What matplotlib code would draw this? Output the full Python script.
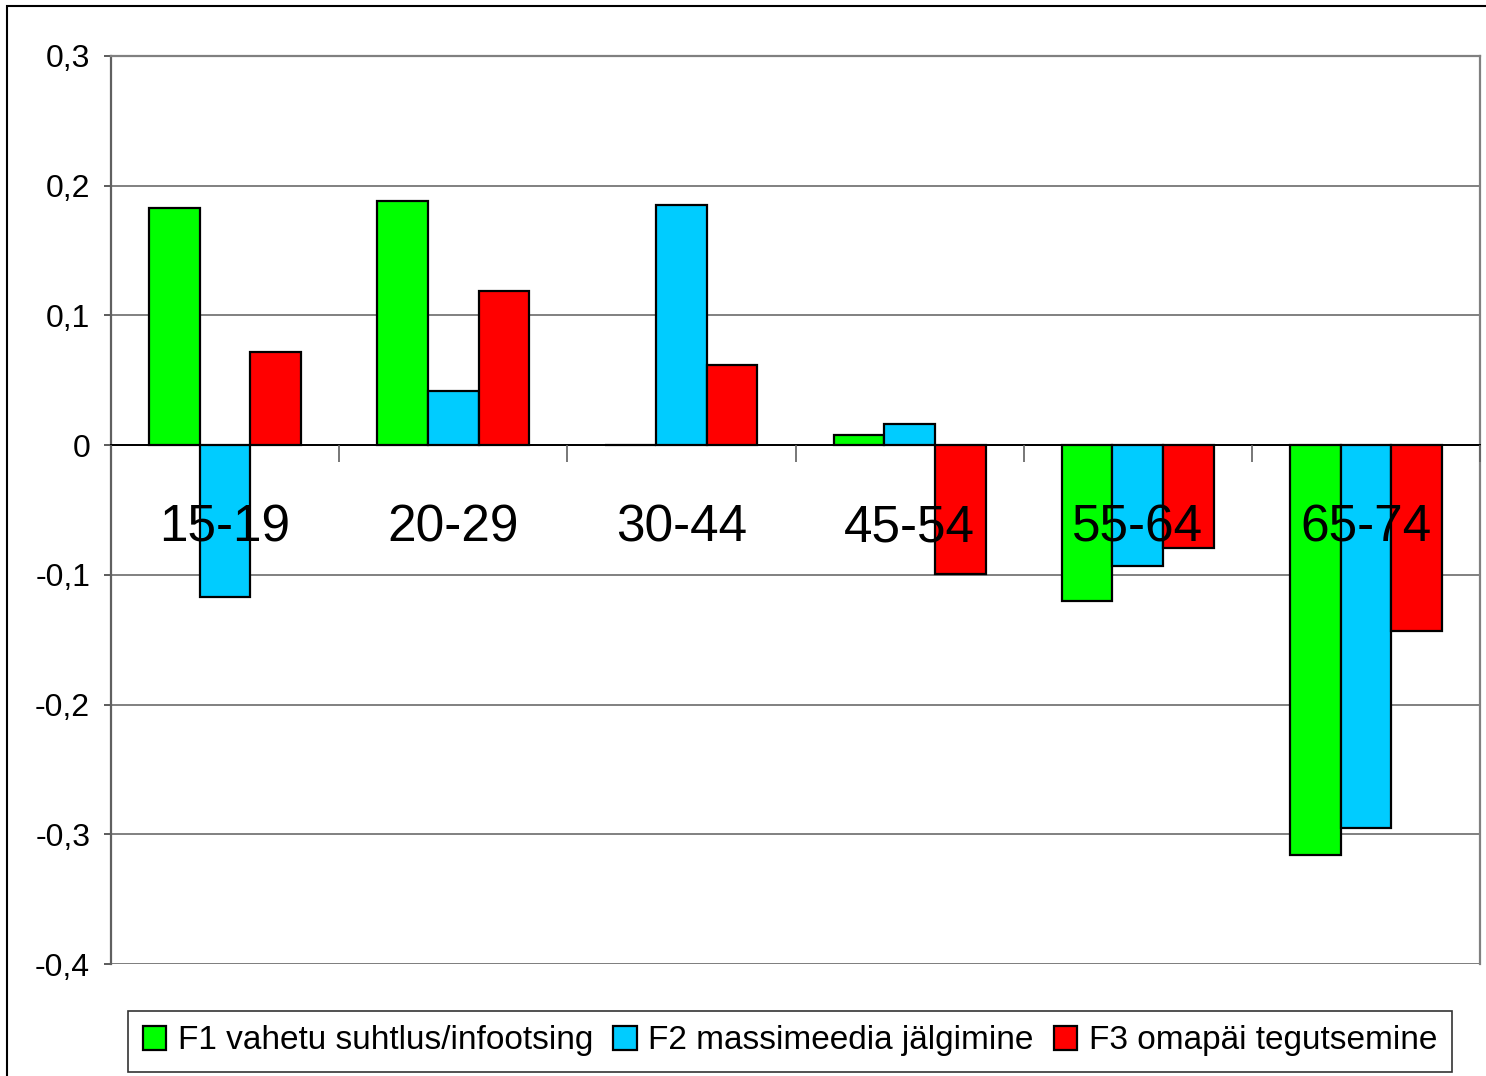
"""Grouped bar chart: factor scores by age group."""

import matplotlib
matplotlib.use("Agg")
import matplotlib.pyplot as plt
from matplotlib.patches import Rectangle
from matplotlib.ticker import FuncFormatter
import numpy as np

plt.rcParams["font.family"] = ["Liberation Sans", "DejaVu Sans"]

# ------------------------------------------------------------------
# Data
# ------------------------------------------------------------------
age_groups = ["15-19", "20-29", "30-44", "45-54", "55-64", "65-74"]
f1_values = [0.183, 0.188, 0.0, 0.008, -0.120, -0.316]
f2_values = [-0.117, 0.042, 0.185, 0.016, -0.093, -0.295]
f3_values = [0.072, 0.119, 0.062, -0.099, -0.079, -0.143]
series_labels = [
    "F1 vahetu suhtlus/infootsing",
    "F2 massimeedia jälgimine",
    "F3 omapäi tegutsemine",
]
series_colors = ["#00FF00", "#00CCFF", "#FF0000"]
y_ticks = [-0.4, -0.3, -0.2, -0.1, 0.0, 0.1, 0.2, 0.3]

# ------------------------------------------------------------------
# Figure
# ------------------------------------------------------------------
fig = plt.figure(figsize=(14.86, 10.76), dpi=100)
ax = fig.add_axes([111 / 1486, 1 - 964 / 1076, (1480 - 111) / 1486, (964 - 56) / 1076])

x = np.arange(len(age_groups))
width = 0.222
for i, (vals, lab, col) in enumerate(zip([f1_values, f2_values, f3_values],
                                         series_labels, series_colors)):
    ax.bar(x + (i - 1) * width, vals, width, color=col, edgecolor="black",
           linewidth=1.6, label=lab, zorder=3)

ax.set_xlim(-0.5, len(age_groups) - 0.5)
ax.set_ylim(-0.4, 0.3)

# y axis
ax.set_yticks(y_ticks)
ax.yaxis.set_major_formatter(FuncFormatter(
    lambda v, _: "0" if abs(v) < 1e-9 else f"{v:.1f}".replace(".", ",")))
ax.tick_params(axis="y", direction="out", length=5, width=1.2, color="#404040",
               labelsize=23, pad=10)
ax.yaxis.grid(True, color="#808080", linewidth=1.4, zorder=0)

# x axis at zero, category labels drawn over the bars
ax.spines["bottom"].set_position(("data", 0))
ax.spines["bottom"].set_color("black")
ax.spines["bottom"].set_linewidth(1.4)
ax.spines["bottom"].set_zorder(4)
ax.set_xticks(np.arange(len(age_groups) + 1) - 0.5, minor=True)
ax.set_xticks(x)
ax.set_xticklabels(age_groups, fontsize=37)
ax.tick_params(axis="x", which="major", length=0, pad=42)
ax.tick_params(axis="x", which="minor", direction="out", length=12, width=1.2,
               color="#606060")
ax.xaxis.set_zorder(5)

for side in ["top", "right"]:
    ax.spines[side].set_color("#808080")
    ax.spines[side].set_linewidth(1.6)
ax.spines["left"].set_color("#606060")
ax.spines["left"].set_linewidth(1.6)
ax.axhline(-0.4, color="#808080", linewidth=1.8, zorder=2)

# legend
leg = fig.legend(loc="center", bbox_to_anchor=(790 / 1486, 1 - 1041 / 1076),
                 ncol=3, fontsize=24, frameon=True, fancybox=False,
                 edgecolor="black", handlelength=0.7, handleheight=0.7,
                 handletextpad=0.35, columnspacing=0.6, borderpad=0.45,
                 borderaxespad=0)
leg.get_frame().set_linewidth(1.2)

# outer chart border
fig.patches.append(Rectangle((7 / 1486, -0.05), 1.2, 1 - 6 / 1076 + 0.05,
                             transform=fig.transFigure, fill=False,
                             edgecolor="black", linewidth=1.5))

fig.savefig("out.png", dpi=100)
